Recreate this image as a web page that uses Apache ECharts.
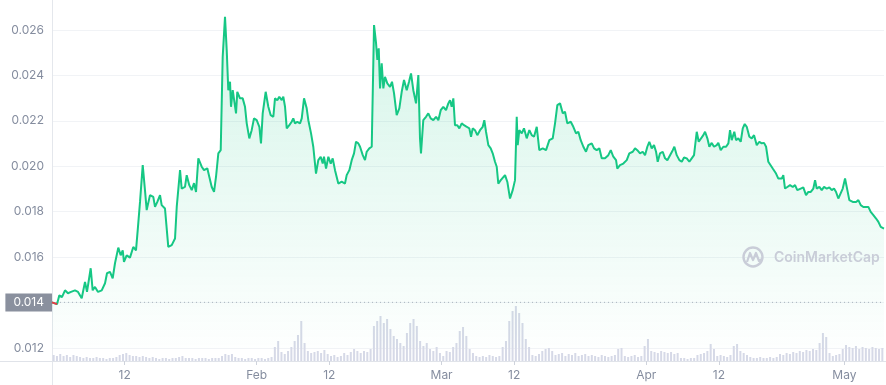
<!DOCTYPE html>
<html><head><meta charset="utf-8">
<script src="https://cdn.jsdelivr.net/npm/echarts@6/dist/echarts.min.js"></script>
<style>html,body{margin:0;padding:0;background:#fff}#c{width:886px;height:385px}</style>
</head><body><div id="c"></div>
<script>
// Day offsets from Jan 1 (x) and price values (y)
const days = [0,0.76,1.11,1.51,1.97,2.42,2.88,3.48,3.94,4.50,
5.00,5.30,5.86,6.16,6.51,6.97,7.53,8.03,8.33,8.78,
9.19,9.54,10.04,10.40,10.71,10.90,11.31,11.81,12.31,12.72,
12.98,13.33,13.74,14.08,14.34,14.84,15.34,15.60,15.95,16.36,
16.61,17.11,17.37,17.61,18.13,18.63,18.89,19.39,19.64,20.14,
20.40,20.79,21.16,21.51,21.81,22.16,22.67,23.02,23.52,23.82,
24.19,24.54,24.84,25.19,25.55,25.85,26.20,26.46,26.70,26.96,
27.11,27.37,27.87,28.06,28.47,28.88,29.23,29.49,29.88,30.24,
30.59,31.00,31.40,31.65,31.91,32.36,32.76,33.12,33.52,33.77,
34.12,34.42,34.79,35.03,35.29,35.55,35.94,36.30,36.54,36.80,
37.15,37.56,37.82,38.17,38.57,38.82,39.23,39.57,39.98,40.33,
40.69,41.00,41.19,41.50,41.85,42.21,42.51,42.86,43.12,43.36,
43.87,44.12,44.37,44.63,45.03,45.39,45.74,46.04,46.39,46.65,
47.06,47.40,47.66,48.05,48.42,48.77,49.07,49.27,49.48,49.68,
49.93,50.18,50.43,50.78,51.19,51.49,51.80,52.20,52.60,52.96,
53.31,53.72,54.07,54.37,54.72,55.13,55.48,55.73,55.88,56.23,
56.64,56.99,57.35,57.75,58.16,58.51,58.87,59.26,59.67,60.02,
60.28,60.53,60.78,61.03,61.38,61.69,62.05,62.40,62.81,63.20,
63.46,63.71,64.06,64.41,64.82,65.23,65.47,65.73,66.08,66.44,
66.74,67.09,67.35,67.59,67.96,68.26,68.61,68.96,69.36,69.77,
70.12,70.38,70.53,70.77,71.14,71.48,71.89,72.29,72.65,73.00,
73.41,73.80,74.32,74.82,75.32,75.83,76.18,76.53,76.94,77.35,
77.69,78.04,78.56,78.95,79.36,79.71,80.07,80.47,80.87,81.22,
81.74,82.09,82.49,82.89,83.25,83.75,84.25,84.62,85.01,85.42,
85.61,86.02,86.52,87.04,87.43,87.95,88.30,88.64,89.05,89.46,
89.81,90.16,90.46,90.82,91.17,91.48,91.73,92.08,92.49,92.84,
93.19,93.60,94.01,94.25,94.61,95.01,95.37,95.72,96.13,96.52,
96.88,97.23,97.64,97.94,98.24,98.64,98.90,99.25,99.55,99.91,
100.26,100.67,100.91,101.27,101.67,102.08,102.43,102.68,102.94,103.33,
103.59,103.94,104.30,104.61,104.91,105.21,105.61,105.97,106.32,106.73,
107.12,107.48,107.83,108.14,108.48,108.74,109.15,109.65,110.00,110.51,
110.75,111.01,111.36,111.77,112.18,112.53,112.87,113.39,113.78,114.19,
114.54,114.91,115.30,115.56,115.81,116.21,116.57,116.92,117.33,117.72,
118.09,118.43,118.74,119.08,119.34,119.75,120.10,120.45,120.75,121.27,
121.77,122.12,122.48,122.87,123.28,123.63,123.99,124.39,124.80,125.15,
125.51,126.00];

const prices = [0.01401,0.01393,0.01432,0.01424,0.01454,0.01441,0.01447,0.01454,0.01447,0.01419,
0.01491,0.01447,0.01551,0.01454,0.01469,0.01447,0.01454,0.01485,0.01529,0.01535,
0.01507,0.01573,0.01642,0.01608,0.01630,0.01579,0.01608,0.01598,0.01645,0.01630,
0.01719,0.01843,0.02005,0.01895,0.01807,0.01873,0.01865,0.01821,0.01843,0.01873,
0.01829,0.01814,0.01807,0.01645,0.01653,0.01682,0.01821,0.01983,0.01902,0.01909,
0.01961,0.01917,0.01895,0.01926,0.01887,0.02035,0.01998,0.01983,0.01991,0.01954,
0.01909,0.01887,0.01954,0.02057,0.02071,0.02482,0.02658,0.02512,0.02335,0.02372,
0.02262,0.02335,0.02233,0.02328,0.02299,0.02299,0.02262,0.02189,0.02123,0.02159,
0.02211,0.02203,0.02174,0.02101,0.02233,0.02328,0.02262,0.02225,0.02218,0.02299,
0.02291,0.02306,0.02291,0.02306,0.02262,0.02167,0.02181,0.02196,0.02211,0.02189,
0.02196,0.02189,0.02211,0.02299,0.02255,0.02203,0.02145,0.02086,0.01968,0.02027,
0.02042,0.02012,0.02042,0.01990,0.02042,0.02012,0.02035,0.01983,0.01976,0.01924,
0.01932,0.01924,0.01924,0.01961,0.01983,0.02027,0.02057,0.02108,0.02101,0.02086,
0.02049,0.02027,0.02064,0.02079,0.02086,0.02622,0.02543,0.02468,0.02519,0.02343,
0.02453,0.02343,0.02394,0.02365,0.02350,0.02372,0.02321,0.02225,0.02255,0.02328,
0.02380,0.02335,0.02372,0.02409,0.02335,0.02277,0.02402,0.02123,0.02057,0.02203,
0.02218,0.02233,0.02211,0.02203,0.02218,0.02203,0.02247,0.02262,0.02247,0.02277,
0.02291,0.02262,0.02299,0.02181,0.02181,0.02167,0.02189,0.02181,0.02174,0.02167,
0.02130,0.02167,0.02159,0.02137,0.02159,0.02174,0.02203,0.02152,0.02093,0.02079,
0.02057,0.02020,0.01998,0.01924,0.01939,0.01931,0.01961,0.01931,0.01858,0.01895,
0.01939,0.02218,0.02093,0.02159,0.02145,0.02167,0.02123,0.02159,0.02137,0.02130,
0.02174,0.02071,0.02079,0.02071,0.02115,0.02123,0.02189,0.02269,0.02277,0.02233,
0.02240,0.02189,0.02196,0.02174,0.02145,0.02152,0.02115,0.02086,0.02064,0.02093,
0.02101,0.02079,0.02071,0.02079,0.02035,0.02035,0.02049,0.02071,0.02042,0.02027,
0.01990,0.02005,0.02012,0.02027,0.02057,0.02064,0.02079,0.02071,0.02057,0.02064,
0.02049,0.02086,0.02108,0.02079,0.02093,0.02064,0.02020,0.02057,0.02064,0.02035,
0.02027,0.02049,0.02071,0.02086,0.02049,0.02027,0.02020,0.02039,0.02035,0.02020,
0.02035,0.02049,0.02152,0.02108,0.02115,0.02137,0.02152,0.02123,0.02086,0.02103,
0.02086,0.02093,0.02103,0.02071,0.02086,0.02086,0.02101,0.02159,0.02115,0.02152,
0.02115,0.02123,0.02108,0.02167,0.02186,0.02174,0.02130,0.02123,0.02137,0.02093,
0.02108,0.02101,0.02103,0.02086,0.02020,0.02027,0.01990,0.01968,0.01946,0.01946,
0.01961,0.01902,0.01909,0.01917,0.01909,0.01917,0.01895,0.01902,0.01907,0.01873,
0.01887,0.01887,0.01902,0.01939,0.01902,0.01909,0.01895,0.01909,0.01902,0.01907,
0.01895,0.01902,0.01887,0.01858,0.01865,0.01902,0.01946,0.01895,0.01851,0.01843,
0.01843,0.01851,0.01829,0.01821,0.01821,0.01821,0.01799,0.01785,0.01770,0.01755,
0.01733,0.01726];

// Half-day volume (relative units), Jan 1 -> May 7
const volumes = [6,5,7,5,6,4,6,5,
4,3,4,3,3,4,3,3,2,3,3,4,
6,7,8,6,5,
5,4,5,4,3,4,
3,2,3,3,2,3,3,
4,5,3,
3,3,2,3,3,3,2,3,3,3,
5,7,6,7,4,
3,3,2,3,3,2,3,3,2,3,
4,14,20,9,7,10,14,
20,26,40,18,
10,8,9,10,8,11,
7,5,6,4,
5,8,6,9,
12,10,8,
10,9,12,
35,40,45,38,42,32,25,
22,18,
15,28,38,
42,35,20,
15,18,12,10,14,
8,5,10,
9,14,18,
30,34,25,
12,8,5,
4,5,4,6,5,4,5,
14,20,
40,50,55,48,38,
22,14,
6,5,7,
10,12,13,10,
6,7,8,5,7,6,8,5,6,7,5,6,
5,4,6,5,4,5,6,
12,13,
5,4,5,6,4,5,
15,22,
10,9,8,10,9,8,9,7,8,
3,3,2,3,3,
6,7,8,
10,17,
12,5,6,
5,4,6,
15,17,
10,8,6,
4,3,3,4,3,3,4,3,4,
7,6,8,7,9,8,10,9,11,
10,12,11,
18,28,24,
8,5,6,
7,12,16,
14,13,15,12,14,13,12,14,13,12,13];

const xTickDays = [11, 31, 42, 59, 70, 90, 101, 120];
const xTickLabels = ['12', 'Feb', '12', 'Mar', '12', 'Apr', '12', 'May'];
const yMin = 0.012, yMax = 0.026, yStep = 0.002;

const priceData = days.map((d, i) => [d, prices[i]]);
const openPrice = prices[0];
const openLabel = openPrice.toFixed(3);
// the opening stretch that sits below the opening price is drawn red
const belowOpen = priceData.slice(0, 2);
const openLine = [[days[0], openPrice], [days[days.length - 1], openPrice]];
const volData = volumes.map((v, i) => [i / 2 + 0.25, v]);
const labelColor = '#858d9f';
const font = 'Inter, "Noto Sans", sans-serif';

const chart = echarts.init(document.getElementById('c'), null, {renderer: 'canvas'});
chart.setOption({
  animation: false,
  textStyle: {fontFamily: font},
  grid: [
    {left: 52, right: 2, top: 30, bottom: 37, outerBoundsMode: 'none', containLabel: false},
    {left: 52, right: 2, top: 300, bottom: 24, outerBoundsMode: 'none', containLabel: false},
    {left: 0, right: 0, top: 0, bottom: 24, outerBoundsMode: 'none', containLabel: false},
    {left: 52, right: 0, top: 0, bottom: 0, outerBoundsMode: 'none', containLabel: false}
  ],
  xAxis: [
    {gridIndex: 0, type: 'value', min: 0, max: 126, show: false},
    {gridIndex: 1, type: 'value', min: 0, max: 126,
      axisLine: {show: false}, splitLine: {show: false},
      axisTick: {show: true, customValues: xTickDays, length: 4, lineStyle: {color: '#cfd3dc'}},
      axisLabel: {customValues: xTickDays, color: labelColor, fontSize: 12, fontFamily: font, margin: 8,
        formatter: v => { const k = xTickDays.indexOf(Math.round(v)); return k >= 0 ? xTickLabels[k] : ''; }}},
    {gridIndex: 2, type: 'value', min: 0, max: 1,
      axisLine: {show: true, onZero: false, lineStyle: {color: '#e0e3e9'}},
      axisTick: {show: false}, axisLabel: {show: false}, splitLine: {show: false}},
    {gridIndex: 3, type: 'value', min: 0, max: 1, show: false}
  ],
  yAxis: [
    {gridIndex: 0, type: 'value', min: yMin, max: yMax, interval: yStep,
      axisLine: {show: false}, axisTick: {show: false},
      splitLine: {lineStyle: {color: '#f1f3f6'}},
      axisLabel: {color: labelColor, fontSize: 12, fontFamily: font, margin: 0,
        formatter: v => { const s = v.toFixed(3); return s === openLabel ? '{box|' + s + '}' : '{n|' + s + '}'; },
        rich: {
          n: {color: labelColor, fontSize: 12, fontFamily: font, padding: [0, 8, 0, 0]},
          box: {backgroundColor: '#8a909e', color: '#ffffff', fontSize: 12, fontFamily: font,
            padding: [3, 8, 3, 8], lineHeight: 12}}}},
    {gridIndex: 1, type: 'value', min: 0, max: 61, show: false},
    {gridIndex: 2, type: 'value', min: 0, max: 1, show: false},
    {gridIndex: 3, type: 'value', min: 0, max: 1,
      axisLine: {show: true, onZero: false, lineStyle: {color: '#e4e7ec'}},
      axisTick: {show: false}, axisLabel: {show: false}, splitLine: {show: false}}
  ],
  series: [
    {type: 'bar', xAxisIndex: 1, yAxisIndex: 1, data: volData, barWidth: 2,
      itemStyle: {color: '#d6d9e7'}, z: 1, silent: true},
    {type: 'line', xAxisIndex: 0, yAxisIndex: 0, data: openLine, showSymbol: false,
      z: 2, silent: true, lineStyle: {type: [1, 3], color: '#aeb3c0', width: 1}},
    {type: 'line', xAxisIndex: 0, yAxisIndex: 0, data: priceData, showSymbol: false,
      clip: false, z: 3, color: '#16c784',
      lineStyle: {width: 2, color: '#16c784'},
      areaStyle: {origin: 'start', color: new echarts.graphic.LinearGradient(0, 0, 0, 1, [
        {offset: 0, color: 'rgba(22,199,132,0.26)'},
        {offset: 1, color: 'rgba(22,199,132,0.01)'}])}},
    {type: 'line', xAxisIndex: 0, yAxisIndex: 0, data: belowOpen, showSymbol: false,
      z: 4, lineStyle: {width: 2, color: '#ea3943'}, silent: true}
  ],
  graphic: [
    {type: 'circle', shape: {cx: 753, cy: 257, r: 9.5}, style: {fill: 'none', stroke: '#c9cdd8', lineWidth: 2.4}, z: 10},
    {type: 'polyline', shape: {points: [[747, 262], [750, 253], [753, 260], [756, 253], [759, 261], [762, 259]]},
      style: {fill: 'none', stroke: '#c9cdd8', lineWidth: 2.2, lineJoin: 'round'}, z: 10},
    {type: 'text', x: 774, y: 258, z: 10,
      style: {text: 'CoinMarketCap', fill: '#c9cdd8', font: '600 14px ' + font, textVerticalAlign: 'middle'}}
  ]
});
</script></body></html>
